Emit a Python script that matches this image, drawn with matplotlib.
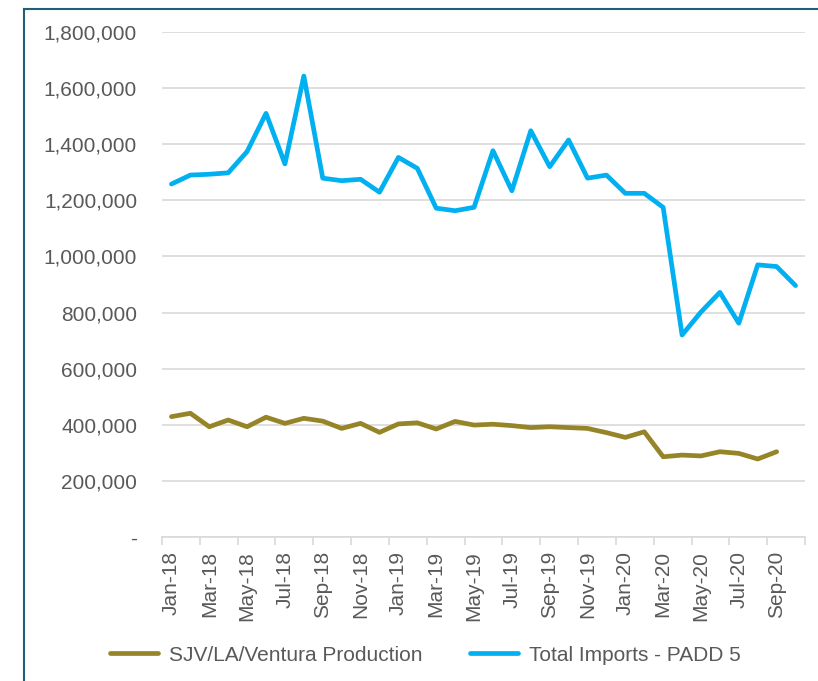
import matplotlib
matplotlib.use("Agg")
import matplotlib.pyplot as plt
from matplotlib.lines import Line2D
from matplotlib.ticker import FuncFormatter
import pandas as pd

# Monthly data, Jan-18 to Oct-20
months = list(pd.date_range("2018-01-01", periods=34, freq="MS").strftime("%b-%y"))

imports = [1258000, 1290000, 1293000, 1298000, 1374000, 1510000, 1330000, 1643000,
           1279000, 1270000, 1275000, 1229000, 1353000, 1314000, 1172000, 1163000,
           1175000, 1377000, 1234000, 1448000, 1320000, 1415000, 1279000, 1290000,
           1225000, 1225000, 1175000, 720000, 802000, 872000, 762000, 970000,
           964000, 896000]

production = [429000, 441000, 393000, 417000, 393000, 427000, 405000, 423000,
              413000, 387000, 405000, 373000, 403000, 407000, 385000, 412000,
              399000, 402000, 397000, 390000, 393000, 390000, 387000, 372000,
              355000, 375000, 286000, 292000, 289000, 304000, 298000, 278000,
              304000]

text_color = "#595959"
grid_color = "#D9D9D9"

plt.rcParams["font.family"] = ["Liberation Sans", "DejaVu Sans"]
plt.rcParams["font.size"] = 15

fig = plt.figure(figsize=(8.18, 6.81), dpi=100)
ax = fig.add_axes([162 / 818, 1 - 537 / 681, (805 - 162) / 818, (537 - 32) / 681])

ax.plot(range(len(production)), production, color="#968528", linewidth=3.4,
        label="SJV/LA/Ventura Production", solid_capstyle="round", solid_joinstyle="round")
ax.plot(range(len(imports)), imports, color="#00B0F0", linewidth=3.4,
        label="Total Imports - PADD 5", solid_capstyle="round", solid_joinstyle="round")

ax.set_xlim(-0.5, len(months) - 0.5)
ax.set_ylim(0, 1800000)
ax.set_yticks(range(0, 1800001, 200000))
ax.yaxis.set_major_formatter(FuncFormatter(lambda v, p: "-" if v == 0 else f"{int(v):,}"))
ax.grid(axis="y", color=grid_color, linewidth=1.2)
ax.set_axisbelow(True)

# tick marks between categories, labels on every other month
ax.set_xticks([i - 0.5 for i in range(0, len(months) + 1, 2)])
ax.set_xticklabels([])
ax.set_xticks(range(0, len(months), 2), minor=True)
ax.set_xticklabels(months[::2], minor=True, rotation=90)
ax.tick_params(axis="x", which="major", length=6, color=grid_color, width=1.2)
ax.tick_params(axis="x", which="minor", length=0, pad=10, labelcolor=text_color)
ax.tick_params(axis="y", length=0, pad=18, labelcolor=text_color)

for s in ["top", "right", "left"]:
    ax.spines[s].set_visible(False)
ax.spines["bottom"].set_color(grid_color)
ax.spines["bottom"].set_linewidth(1.2)

fig.legend(loc="center", bbox_to_anchor=(0.52, 0.038), ncol=2, frameon=False,
           handlelength=2.3, handletextpad=0.5, columnspacing=2.3, labelcolor=text_color)

# chart frame (left and top edges)
border = "#215E7C"
fig.add_artist(Line2D([24 / 818, 24 / 818], [0, 1 - 9 / 681], color=border, linewidth=1.5))
fig.add_artist(Line2D([24 / 818, 1], [1 - 9 / 681, 1 - 9 / 681], color=border, linewidth=1.5))

fig.savefig("out.png", dpi=100)
